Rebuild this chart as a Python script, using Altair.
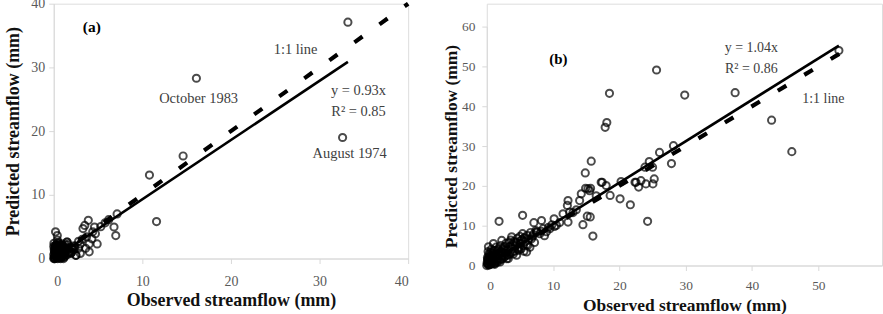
import altair as alt
import pandas as pd

SERIF = "Liberation Serif"
AXIS_GREY = "#d9d9d9"
LABEL_GREY = "#595959"
NOTE_GREY = "#404040"

# ---------------- Panel (a) ----------------
obs_a = [
    33.2, 16.1, 32.6, 14.6, 10.8, 11.6, 7.15, 6.8, 7.0, 3.9, 3.5, 3.3, 4.6, 4.7,
    4.3, 4.9, 4.0, 3.6, 4.0, 3.0, 2.5, 2.8, 1.5, 1.35, 0.2, 0.4, 0.4, 2.1, 1.9,
    2.8, 3.2, 3.0, 2.3, 5.3, 5.8, 6.2, 4.4, 3.7,
    0.0, 0.05, 0.1, 0.15, 0.2, 0.1, 0.25, 0.3, 0.35, 0.2, 0.15, 0.3, 0.4, 0.45,
    0.5, 0.55, 0.6, 0.65, 0.7, 0.75, 0.8, 0.85, 0.9, 0.95, 1.0, 1.05, 1.1, 1.15,
    1.2, 1.25, 1.3, 0.05, 0.12, 0.18, 0.22, 0.28, 0.38, 0.42, 0.48, 0.58, 0.62,
    0.68, 0.72, 0.82, 0.88, 0.92, 0.98, 1.08, 1.18, 1.4, 1.5, 1.6, 1.7, 1.8,
    2.0, 2.2, 1.6, 1.9, 2.4, 2.5, 2.0, 2.3, 1.5,
    0.0, 0.0, 0.02, 0.08, 0.1, 0.12, 0.14, 0.25, 0.32, 0.36, 0.44, 0.52, 0.6,
    0.66, 0.74, 0.78, 0.86, 0.94, 1.02, 1.12, 1.22, 0.3, 0.5, 0.7, 0.9, 1.1,
]
pred_a = [
    37.1, 28.3, 19.0, 16.1, 13.1, 5.8, 7.0, 4.95, 3.6, 6.0, 5.2, 4.7, 4.95, 3.9,
    3.1, 2.3, 2.3, 1.6, 1.05, 0.8, 0.5, 1.6, 2.6, 1.8, 4.2, 3.6, 2.9, 1.6, 0.8,
    2.7, 3.0, 2.3, 2.0, 5.0, 5.6, 6.1, 4.2, 3.4,
    0.0, 0.1, 0.3, 0.0, 0.5, 0.8, 1.0, 0.2, 1.3, 1.6, 2.0, 2.2, 0.6, 0.0,
    1.0, 1.8, 0.4, 1.2, 0.1, 0.8, 1.5, 0.3, 1.0, 2.0, 0.5, 1.3, 0.0, 0.9,
    1.7, 0.4, 2.2, 1.4, 1.1, 0.4, 1.9, 0.7, 1.6, 2.0, 0.3, 0.7, 1.5,
    2.1, 0.5, 1.9, 0.7, 1.6, 0.2, 1.9, 0.2, 1.2, 0.6, 1.4, 0.9, 1.2,
    0.9, 1.4, 2.2, 1.8, 1.9, 0.5, 1.0, 1.5, 2.6,
    0.6, 1.9, 2.4, 1.2, 0.0, 1.7, 0.6, 1.4, 0.9, 0.1, 1.1, 0.6, 2.3,
    0.5, 1.2, 0.0, 1.1, 0.6, 1.7, 0.6, 1.1, 1.9, 2.5, 1.8, 2.3, 1.6,
]
slope_a = 0.93
r2_a = 0.85

# ---------------- Panel (b) ----------------
obs_b = [
    53.1, 25.6, 18.5, 29.85, 37.45, 18.1, 17.85, 42.95, 46.0, 28.15, 27.85,
    26.05, 24.5, 23.85, 25.0, 25.25, 25.05, 24.0, 23.25, 22.5, 22.9, 24.25,
    21.65, 20.1, 20.25, 18.6, 17.4, 18.0, 15.75, 14.85, 14.9, 15.5, 15.65,
    14.25, 14.0, 15.6, 14.5, 16.0, 12.25, 12.15, 12.5, 11.5, 12.25, 10.15,
    10.5, 9.5, 8.25, 8.5, 7.5, 7.1, 5.4, 1.85, 6.75, 6.0, 4.5, 3.25, 2.0,
    2.25, 1.0, 0.25, 3.75, 15.25, 13.0, 13.5, 11.0, 10.2, 9.8, 9.0, 8.0, 8.7,
    15.15, 16.5, 22.35, 17.25,
    0.0, 0.1, 0.2, 0.1, 0.3, 0.2, 0.4, 0.5, 0.45, 0.6, 0.55, 0.7, 0.8, 0.9,
    0.85, 1.0, 1.0, 1.2, 1.3, 1.25, 1.4, 1.5, 1.4, 1.6, 1.7, 1.8, 1.9, 1.8,
    2.1, 2.2, 2.3, 2.4, 2.5, 2.6, 2.7, 2.8, 2.9, 3.0, 3.1, 3.2, 3.3, 3.4,
    3.5, 3.6, 3.8, 3.9, 4.0, 4.1, 4.2, 4.3, 4.5, 4.6, 4.8, 4.9, 5.0, 5.1,
    5.2, 5.3, 5.4, 5.5, 5.6, 5.7, 5.8, 6.0, 6.1, 6.3, 6.5, 6.6, 7.0, 7.2,
    7.4, 7.5, 0.3, 0.6, 1.1, 0.15, 0.75,
    0.05, 0.15, 0.25, 0.35, 0.5, 0.65, 0.8, 0.95, 1.1, 1.2, 1.35, 1.5, 1.65,
    1.75, 2.0, 2.15, 2.35, 2.55, 2.75, 3.0, 3.3, 3.6, 3.9, 4.3, 4.7, 5.1,
    5.6, 6.2, 6.9, 8.2, 9.3,
]
pred_b = [
    54.0, 49.1, 43.25, 42.8, 43.4, 35.9, 34.7, 36.5, 28.6, 30.1, 25.6,
    28.4, 26.1, 24.7, 24.7, 21.75, 20.5, 20.5, 21.3, 20.9, 19.7, 11.1,
    15.25, 16.75, 21.1, 17.6, 20.9, 20.1, 26.2, 23.25, 19.4, 18.8, 19.4,
    18.0, 16.3, 12.2, 10.25, 7.4, 16.3, 15.1, 13.4, 13.0, 10.9, 11.75,
    10.1, 9.25, 11.3, 9.25, 8.4, 10.75, 12.6, 11.1, 6.75, 3.4, 2.6, 1.75, 0.9,
    6.3, 5.5, 4.7, 7.2, 19.25, 13.3, 14.0, 10.8, 9.8, 10.2, 8.5, 8.0, 7.5,
    12.4, 17.5, 20.9, 20.9,
    0.0, 0.5, 1.2, 2.0, 2.8, 3.5, 0.2, 1.0, 1.8, 2.5, 3.3, 4.1, 0.6, 1.5,
    2.2, 3.0, 3.8, 0.3, 1.2, 2.0, 2.8, 3.6, 4.6, 0.8, 1.7, 2.5, 3.2, 4.2,
    5.0, 1.6, 2.4, 3.3, 4.0, 2.0, 4.8, 3.0, 5.6, 1.7, 2.7, 3.8, 4.6, 5.8,
    3.0, 6.4, 4.2, 5.2, 2.9, 6.0, 3.6, 4.8, 5.5, 6.8, 3.8, 4.6, 7.3, 5.6,
    4.2, 6.5, 8.0, 5.0, 3.6, 7.0, 6.0, 5.3, 7.6, 6.5, 4.6, 8.3, 7.8, 5.8,
    8.8, 8.4, 0.1, 0.4, 0.5, 1.5, 0.9,
    0.7, 1.6, 0.3, 2.3, 1.4, 0.4, 2.7, 1.2, 3.6, 0.6, 2.5, 1.1, 3.9,
    2.9, 1.4, 3.5, 1.8, 4.4, 2.3, 3.8, 2.6, 4.9, 3.4, 5.9, 4.1, 6.2,
    6.9, 5.1, 7.3, 8.6, 9.6,
]
slope_b = 1.04
r2_b = 0.86

# Annotations: text, position (in data units), bold flag
notes_a_text = ["(a)", "1:1 line", "October 1983", f"y = {slope_a}x", f"R² = {r2_a}", "August 1974"]
notes_a_x = [4.3, 27.3, 16.35, 34.4, 34.4, 33.4]
notes_a_y = [36.4, 32.8, 25.0, 26.25, 22.95, 16.4]
notes_a_bold = [True, False, False, False, False, False]

notes_b_text = ["(b)", f"y = {slope_b}x", f"R² = {r2_b}", "1:1 line"]
notes_b_x = [10.8, 39.9, 39.9, 50.75]
notes_b_y = [51.75, 54.7, 49.25, 41.75]
notes_b_bold = [True, False, False, False]


def panel(obs, pred, slope, line_max, xdom, ydom, xticks, yticks, w, h, yrange,
          ntext, nx, ny, nbold, lab_size, title_size, xpad, ypad, xtpad, ytpad,
          note_size):
    xenc = alt.X(
        "obs:Q",
        scale=alt.Scale(domain=xdom, nice=False, zero=False),
        axis=alt.Axis(
            title="Observed streamflow (mm)", values=xticks, grid=False,
            domainColor=AXIS_GREY, tickColor=AXIS_GREY, tickSize=5,
            labelFont=SERIF, labelFontSize=lab_size, labelColor=LABEL_GREY,
            labelPadding=xpad, titleFont=SERIF, titleFontSize=title_size,
            titleFontWeight="bold", titleColor="#111111", titlePadding=xtpad,
        ),
    )
    yenc = alt.Y(
        "pred:Q",
        scale=alt.Scale(domain=ydom, range=yrange, nice=False, zero=False),
        axis=alt.Axis(
            title="Predicted streamflow (mm)", values=yticks, grid=False,
            domainColor=AXIS_GREY, tickColor=AXIS_GREY, tickSize=5,
            labelFont=SERIF, labelFontSize=lab_size, labelColor=LABEL_GREY,
            labelPadding=ypad, titleFont=SERIF, titleFontSize=title_size,
            titleFontWeight="bold", titleColor="#111111", titlePadding=ytpad,
        ),
    )

    pts = alt.Chart(pd.DataFrame({"obs": obs, "pred": pred})).mark_point(
        shape="circle", filled=False, color="black", size=52, strokeWidth=2.0
    ).encode(x=xenc, y=yenc)

    fit_x = [0.0, max(obs)]
    fit = alt.Chart(pd.DataFrame({"obs": fit_x, "pred": [slope * v for v in fit_x]})).mark_line(
        color="black", strokeWidth=2.6
    ).encode(x=xenc, y=yenc)

    one = alt.Chart(pd.DataFrame({"obs": [0.0, line_max], "pred": [0.0, line_max]})).mark_line(
        color="black", strokeWidth=4.2, strokeDash=[10, 21], strokeCap="butt"
    ).encode(x=xenc, y=yenc)

    nd = pd.DataFrame({"obs": nx, "pred": ny, "t": ntext, "b": nbold})
    plain = alt.Chart(nd[~nd["b"]]).mark_text(
        font=SERIF, fontSize=note_size, color=NOTE_GREY
    ).encode(x=xenc, y=yenc, text="t:N")
    bold = alt.Chart(nd[nd["b"]]).mark_text(
        font=SERIF, fontSize=note_size + 1, fontWeight="bold", color="black"
    ).encode(x=xenc, y=yenc, text="t:N")

    return alt.layer(pts, fit, one, plain, bold).properties(width=w, height=h)


left = panel(obs_a, pred_a, slope_a, 40, [0, 40], [0, 40], [0, 10, 20, 30, 40],
             [0, 10, 20, 30, 40], 356, 256, [256, 0], notes_a_text, notes_a_x,
             notes_a_y, notes_a_bold, 14, 18, 11, 4, 3, 8, 14.5)

# the right panel's plot area starts lower, so its y range leaves a gap on top
right = panel(obs_b, pred_b, slope_b, 55, [0, 59.6], [0, 60], [0, 10, 20, 30, 40, 50],
              [0, 10, 20, 30, 40, 50, 60], 397, 263, [263, 23], notes_b_text,
              notes_b_x, notes_b_y, notes_b_bold, 13.5, 17.5, 8, 7, 5, 1, 14)

chart = alt.hconcat(left, right, spacing=25).properties(
    padding={"left": 4, "top": -6, "right": 0, "bottom": 0}
).configure_view(stroke=None).configure(background="white")

chart.save("out.html", embed_options={"renderer": "svg", "actions": False})
